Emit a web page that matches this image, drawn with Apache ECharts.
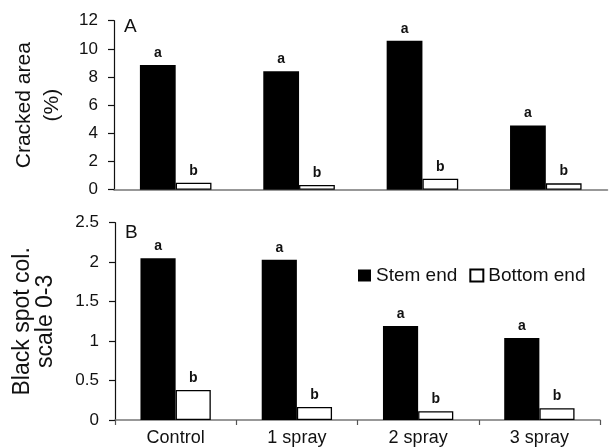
<!DOCTYPE html>
<html>
<head>
<meta charset="utf-8">
<script src="https://cdn.jsdelivr.net/npm/echarts@6/dist/echarts.min.js"></script>
<style>
  html, body { margin: 0; padding: 0; background: #fff; }
  #chart { width: 612px; height: 447px; }
</style>
</head>
<body>
<div id="chart"></div>
<script>
// Treatments on the shared category axis
const categories = ['Control', '1 spray', '2 spray', '3 spray'];

// Panel A: cracked area (%)
const crackedStem = [8.86, 8.41, 10.58, 4.55];
const crackedBottom = [0.50, 0.33, 0.78, 0.45];
const crackedStemLetters = ['a', 'a', 'a', 'a'];
const crackedBottomLetters = ['b', 'b', 'b', 'b'];

// Panel B: black spot colour, scale 0-3
const spotStem = [2.05, 2.03, 1.19, 1.04];
const spotBottom = [0.38, 0.165, 0.11, 0.15];
const spotStemLetters = ['a', 'a', 'a', 'a'];
const spotBottomLetters = ['b', 'b', 'b', 'b'];

// Axis ranges and tick spacing
const crackedTicks = { min: 0, max: 12, interval: 2 };
const spotTicks = { min: 0, max: 2.5, interval: 0.5 };

const seriesNames = ['Stem end', 'Bottom end'];
const panelLetters = ['A', 'B'];
const yTitles = ['Cracked area\n(%)', 'Black spot col.\nscale 0-3'];

const FONT = '"Liberation Sans", Arial, Helvetica, sans-serif';

const chart = echarts.init(document.getElementById('chart'), null, { renderer: 'canvas' });

function letterLabel(letters) {
  return {
    show: true,
    position: 'top',
    distance: 5,
    fontFamily: FONT,
    fontSize: 14,
    fontWeight: 'bold',
    color: '#111',
    formatter: p => letters[p.dataIndex]
  };
}

const stemStyle = { color: '#000' };
const bottomStyle = { color: '#fff', borderColor: '#000', borderWidth: 1.3 };

const yAxisBase = {
  type: 'value',
  axisLine: { show: true, lineStyle: { color: '#111', width: 1.2 } },
  axisTick: { show: true, length: 6, lineStyle: { color: '#111', width: 1.2 } },
  splitLine: { show: false },
  axisLabel: { fontFamily: FONT, fontSize: 17, color: '#111', margin: 16 },
  nameLocation: 'middle',
  nameRotate: 90,
  nameTextStyle: { fontFamily: FONT, fontSize: 21, color: '#111', align: 'center' }
};

const option = {
  animation: false,
  backgroundColor: '#fff',
  grid: [
    { left: 114, right: 4.5, top: 20.7, bottom: 257.3, containLabel: false },
    { left: 115, right: 12, top: 222.7, bottom: 26.7, containLabel: false }
  ],
  legend: {
    data: seriesNames,
    left: 353,
    top: 261,
    icon: 'rect',
    itemWidth: 13,
    itemHeight: 12,
    itemGap: 12,
    textStyle: { fontFamily: FONT, fontSize: 19, color: '#111' }
  },
  xAxis: [
    {
      type: 'category', gridIndex: 0, data: categories,
      axisLine: { show: true, lineStyle: { color: '#777', width: 1.5 } },
      axisTick: { show: false },
      axisLabel: { show: false }
    },
    {
      type: 'category', gridIndex: 1, data: categories,
      axisLine: { show: true, lineStyle: { color: '#777', width: 1.5 } },
      axisTick: { show: true, inside: false, length: 5, lineStyle: { color: '#555', width: 1.2 } },
      axisLabel: { fontFamily: FONT, fontSize: 18, color: '#111', margin: 9 }
    }
  ],
  yAxis: [
    Object.assign({}, yAxisBase, crackedTicks, {
      gridIndex: 0, name: yTitles[0], nameGap: 48,
      nameTextStyle: Object.assign({}, yAxisBase.nameTextStyle, { lineHeight: 28 })
    }),
    Object.assign({}, yAxisBase, spotTicks, {
      gridIndex: 1, name: yTitles[1], nameGap: 58,
      nameTextStyle: Object.assign({}, yAxisBase.nameTextStyle, { fontSize: 23, lineHeight: 23 })
    })
  ],
  series: [
    {
      name: seriesNames[0], type: 'bar', xAxisIndex: 0, yAxisIndex: 0,
      data: crackedStem, barWidth: '29%', barGap: '0%',
      itemStyle: stemStyle, label: letterLabel(crackedStemLetters)
    },
    {
      name: seriesNames[1], type: 'bar', xAxisIndex: 0, yAxisIndex: 0,
      data: crackedBottom, barWidth: '29%', barGap: '0%',
      itemStyle: bottomStyle, label: letterLabel(crackedBottomLetters)
    },
    {
      name: seriesNames[0], type: 'bar', xAxisIndex: 1, yAxisIndex: 1,
      data: spotStem, barWidth: '29%', barGap: '0%',
      itemStyle: stemStyle, label: letterLabel(spotStemLetters)
    },
    {
      name: seriesNames[1], type: 'bar', xAxisIndex: 1, yAxisIndex: 1,
      data: spotBottom, barWidth: '29%', barGap: '0%',
      itemStyle: bottomStyle, label: letterLabel(spotBottomLetters)
    }
  ],
  graphic: [
    {
      type: 'text', left: 124, top: 17,
      style: { text: panelLetters[0], font: '19px ' + FONT, fill: '#111' }
    },
    {
      type: 'text', left: 125, top: 223,
      style: { text: panelLetters[1], font: '19px ' + FONT, fill: '#111' }
    }
  ]
};

chart.setOption(option);
</script>
</body>
</html>
